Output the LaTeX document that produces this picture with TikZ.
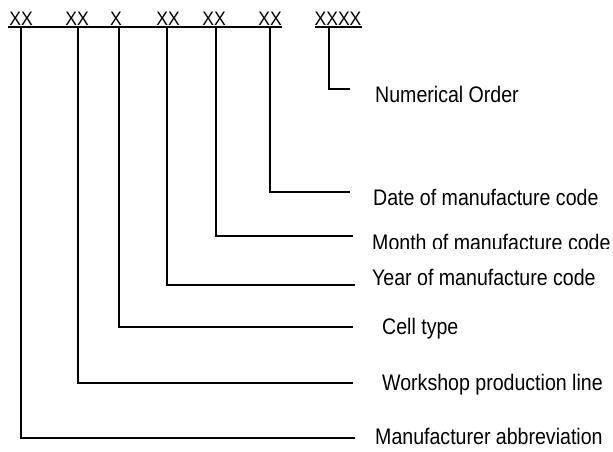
\documentclass[tikz,border=0pt]{standalone}
\usepackage{fontspec}
\setmainfont{Liberation Sans}[FakeStretch=0.87]
\newfontfamily\codefont{Liberation Sans}[FakeStretch=0.9]
\begin{document}
\begin{tikzpicture}[x=1pt,y=-1pt,
  code/.style={font=\codefont\fontsize{19.5}{22}\selectfont, inner sep=0pt, anchor=base},
  lab/.style={font=\fontsize{22.5}{26}\selectfont, inner sep=0pt, anchor=base west},
  conn/.style={line width=1.3pt},
  bar/.style={line width=2pt}]
\useasboundingbox (0,0) rectangle (613,451);
% code segments
\node[code] (c1) at (21,25) {XX};
\node[code] (c2) at (77,25) {XX};
\node[code] (c3) at (116,25) {X};
\node[code] (c4) at (168,25) {XX};
\node[code] (c5) at (214,25) {XX};
\node[code] (c6) at (270,25) {XX};
\node[code] (c7) at (338,25) {XXXX};
\draw[bar] (8,27) -- (282,27);
\draw[bar] (315,27) -- (362,27);
% connector starts
\coordinate (t1) at (21,27);
\coordinate (t2) at (78,27);
\coordinate (t3) at (119,27);
\coordinate (t4) at (167,27);
\coordinate (t5) at (216,27);
\coordinate (t6) at (270,27);
\coordinate (t7) at (329,27);
% connector ends
\coordinate (e1) at (355,438);
\coordinate (e2) at (353,383);
\coordinate (e3) at (353,327);
\coordinate (e4) at (355,285);
\coordinate (e5) at (353,236);
\coordinate (e6) at (350,192);
\coordinate (e7) at (350,89);
% labels
\node[lab] (l7) at (375,102) {Numerical Order};
\node[lab] (l6) at (373,205) {Date of manufacture code};
\begin{scope}
\clip (360,200) rectangle (613,248.5);
\node[lab] (l5) at (372,250.5) {Month of manufacture code};
\end{scope}
\node[lab] (l4) at (372,285) {Year of manufacture code};
\node[lab] (l3) at (382,334) {Cell type};
\node[lab] (l2) at (382,390) {Workshop production line};
\node[lab] (l1) at (375,444) {Manufacturer abbreviation};
% connectors
\draw[conn] (t1) |- (e1);
\draw[conn] (t2) |- (e2);
\draw[conn] (t3) |- (e3);
\draw[conn] (t4) |- (e4);
\draw[conn] (t5) |- (e5);
\draw[conn] (t6) |- (e6);
\draw[conn] (t7) |- (e7);
\end{tikzpicture}
\end{document}
